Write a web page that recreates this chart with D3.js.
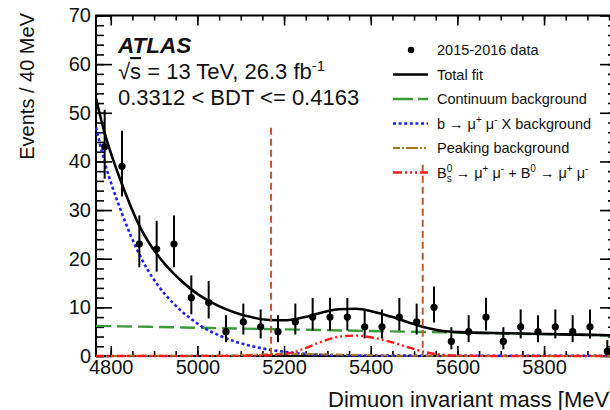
<!DOCTYPE html>
<html>
<head>
<meta charset="utf-8">
<script src="https://cdn.jsdelivr.net/npm/d3@7"></script>
<style>
  html, body { margin: 0; padding: 0; background: #fff; overflow: hidden; }
  svg { display: block; font-family: "Liberation Sans", Arial, Helvetica, sans-serif; }
</style>
</head>
<body>
<svg id="chart" width="610" height="410"></svg>
<script>
// ---- Histogram: 40 MeV bins, centres and observed counts ----
const binCenters = [4786, 4826, 4866, 4906, 4946, 4986, 5026, 5066, 5106, 5146,
                    5186, 5226, 5266, 5306, 5346, 5386, 5426, 5466, 5506, 5546,
                    5586, 5626, 5666, 5706, 5746, 5786, 5826, 5866, 5906, 5946];
const counts = [43, 39, 23, 22, 23, 12, 11, 5, 7, 6,
                5, 7, 8, 8, 8, 6, 6, 8, 7, 10,
                3, 5, 8, 3, 6, 5, 6, 5, 6, 1];
// Poisson (68%) interval half-widths for each bin
const errDown = [6.55, 6.23, 4.77, 4.66, 4.77, 3.42, 3.27, 2.16, 2.58, 2.38,
                 2.16, 2.58, 2.77, 2.77, 2.77, 2.38, 2.38, 2.77, 2.58, 3.11,
                 1.63, 2.16, 2.77, 1.63, 2.38, 2.16, 2.38, 2.16, 2.38, 0.83];
const errUp = [7.62, 7.30, 5.90, 5.80, 5.90, 4.57, 4.42, 3.38, 3.77, 3.58,
               3.38, 3.77, 3.95, 3.95, 3.95, 3.58, 3.58, 3.95, 3.77, 4.27,
               2.92, 3.38, 3.95, 2.92, 3.58, 3.38, 3.58, 3.38, 3.58, 2.30];

// ---- Fit model curves (events / 40 MeV) ----
const fitMass = [4766, 4786, 4806, 4826, 4846, 4866, 4886, 4906, 4926, 4946,
                 4966, 4986, 5006, 5046, 5086, 5126, 5166, 5206, 5246, 5286,
                 5326, 5366, 5406, 5446, 5486, 5526, 5566, 5606, 5686, 5766,
                 5846, 5966];
const totalFit = [53.0, 45.8, 40.2, 35.3, 30.8, 26.8, 23.6, 21.0, 18.8, 16.9,
                  15.2, 13.7, 12.4, 10.4, 8.95, 7.95, 7.4, 7.35, 7.95, 8.9,
                  9.6, 9.7, 9.1, 8.1, 6.95, 5.85, 5.15, 4.9, 4.72, 4.58,
                  4.45, 4.25];

const contMass = [4766, 4966, 5166, 5366, 5566, 5766, 5966];
const continuumFit = [6.2, 5.87, 5.53, 5.2, 4.87, 4.53, 4.2];

const bmumuMass = [4766, 4786, 4806, 4826, 4846, 4866, 4886, 4906, 4926, 4946,
                   4966, 4986, 5006, 5046, 5086, 5126, 5166, 5206, 5246, 5286,
                   5366, 5446, 5566, 5766, 5966];
const bmumuXFit = [47.0, 39.8, 34.2, 29.3, 24.8, 20.9, 17.6, 14.9, 12.6, 10.7,
                   9.0, 7.6, 6.3, 4.4, 3.0, 2.0, 1.3, 0.8, 0.45, 0.25,
                   0.12, 0.08, 0.06, 0.05, 0.04];

const peakMass = [4766, 5046, 5126, 5206, 5286, 5366, 5446, 5526, 5966];
const peakingFit = [0.02, 0.08, 0.25, 0.45, 0.35, 0.2, 0.08, 0.03, 0.01];

const sigMass = [4766, 5086, 5166, 5206, 5246, 5286, 5326, 5366, 5406, 5446,
                 5486, 5526, 5566, 5606, 5686, 5966];
const signalFit = [0.0, 0.03, 0.15, 0.45, 1.5, 2.9, 3.95, 4.2, 3.75, 2.9,
                   1.8, 0.8, 0.25, 0.06, 0.01, 0.0];

// Signal-region boundaries [mass, top of line in events]
const windowMass = [5170, 5520];
const windowTop = [46.9, 39.3];

// Axis ticks
const xMajor = [4800, 5000, 5200, 5400, 5600, 5800];
const yMajor = [0, 10, 20, 30, 40, 50, 60, 70];

// ---- Drawing ----
const svg = d3.select("#chart");
const x = d3.scaleLinear().domain([4766, 5966]).range([96, 616]);
const y = d3.scaleLinear().domain([0, 70]).range([356, 15.5]);

const xMinor = d3.range(4800, 5966, 50);
const yMinor = d3.range(0, 70.01, 2);

function styleAxis(g, fontSize) {
  g.select(".domain").remove();
  g.selectAll(".tick line").attr("stroke", "#000").attr("stroke-width", 1.6);
  g.selectAll("text").attr("font-size", fontSize).attr("fill", "#111")
    .attr("font-family", "'Liberation Sans', Arial, sans-serif");
}

// bottom
svg.append("g").attr("transform", `translate(0,${y(0)})`)
  .call(d3.axisBottom(x).tickValues(xMinor).tickSize(-5).tickFormat(""))
  .call(g => styleAxis(g, 0));
svg.append("g").attr("transform", `translate(0,${y(0)})`)
  .call(d3.axisBottom(x).tickValues(xMajor).tickSize(-10).tickPadding(4).tickFormat(d3.format("d")))
  .call(g => styleAxis(g, 20));
// top
svg.append("g").attr("transform", `translate(0,${y(70)})`)
  .call(d3.axisTop(x).tickValues(xMinor).tickSize(-5).tickFormat(""))
  .call(g => styleAxis(g, 0));
svg.append("g").attr("transform", `translate(0,${y(70)})`)
  .call(d3.axisTop(x).tickValues(xMajor).tickSize(-10).tickFormat(""))
  .call(g => styleAxis(g, 0));
// left
svg.append("g").attr("transform", `translate(${x(4766)},0)`)
  .call(d3.axisLeft(y).tickValues(yMinor).tickSize(-8).tickFormat(""))
  .call(g => styleAxis(g, 0));
svg.append("g").attr("transform", `translate(${x(4766)},0)`)
  .call(d3.axisLeft(y).tickValues(yMajor).tickSize(-16).tickPadding(5).tickFormat(d3.format("d")))
  .call(g => styleAxis(g, 20));
// right
svg.append("g").attr("transform", `translate(${x(5966)},0)`)
  .call(d3.axisRight(y).tickValues(yMinor).tickSize(-8).tickFormat(""))
  .call(g => styleAxis(g, 0));
svg.append("g").attr("transform", `translate(${x(5966)},0)`)
  .call(d3.axisRight(y).tickValues(yMajor).tickSize(-16).tickFormat(""))
  .call(g => styleAxis(g, 0));

// frame
svg.append("rect")
  .attr("x", x(4766)).attr("y", y(70))
  .attr("width", x(5966) - x(4766)).attr("height", y(0) - y(70))
  .attr("fill", "none").attr("stroke", "#000").attr("stroke-width", 2);

// axis titles
svg.append("text")
  .attr("transform", `translate(34,13) rotate(-90)`)
  .attr("text-anchor", "end").attr("font-size", 20).attr("fill", "#111")
  .text("Events / 40 MeV");
svg.append("text")
  .attr("x", 328).attr("y", 407).attr("font-size", 22).attr("fill", "#111")
  .text("Dimuon invariant mass [MeV]");

// curves
const plot = svg.append("g");
function curve(masses, values, color, width, dash) {
  const pts = masses.map((m, i) => [m, values[i]]);
  plot.append("path")
    .datum(pts)
    .attr("fill", "none")
    .attr("stroke", color)
    .attr("stroke-width", width)
    .attr("stroke-dasharray", dash)
    .attr("d", d3.line().x(d => x(d[0])).y(d => y(d[1])).curve(d3.curveMonotoneX));
}
const cContinuum = "#3a9b3a", cBmumu = "#1f1fff", cPeak = "#a8741a", cSignal = "#ff1a1a", cWindow = "#c05a2a";

curve(contMass, continuumFit, cContinuum, 2.4, "15,6");
curve(bmumuMass, bmumuXFit, cBmumu, 2.6, "3,2.6");
curve(peakMass, peakingFit, cPeak, 2, "7,3,2,3");
curve(sigMass, signalFit, cSignal, 2.4, "8,3,2,3,2,3");
curve(fitMass, totalFit, "#000", 2.6, null);

// signal window lines
windowMass.forEach((m, i) => {
  plot.append("line")
    .attr("x1", x(m)).attr("x2", x(m))
    .attr("y1", y(windowTop[i])).attr("y2", y(0))
    .attr("stroke", cWindow).attr("stroke-width", 2).attr("stroke-dasharray", "7,4");
});

// data points with error bars
const data = binCenters.map((m, i) => ({ m, n: counts[i], lo: errDown[i], hi: errUp[i] }));
const pts = plot.append("g");
pts.selectAll("line").data(data).join("line")
  .attr("x1", d => x(d.m)).attr("x2", d => x(d.m))
  .attr("y1", d => y(d.n + d.hi)).attr("y2", d => y(Math.max(0, d.n - d.lo)))
  .attr("stroke", "#000").attr("stroke-width", 2);
pts.selectAll("circle").data(data).join("circle")
  .attr("cx", d => x(d.m)).attr("cy", d => y(d.n)).attr("r", 3.6).attr("fill", "#000");

// ATLAS label block
const lab = svg.append("g").attr("fill", "#111");
lab.append("text").attr("x", 118).attr("y", 53)
  .attr("font-size", 22.5).attr("font-weight", "bold").attr("font-style", "italic")
  .text("ATLAS");
const lum = lab.append("text").attr("x", 118).attr("y", 79).attr("font-size", 22);
lum.append("tspan").text("\u221A");
lum.append("tspan").attr("style", "text-decoration: overline").text("s");
lum.append("tspan").text(" = 13 TeV, 26.3 fb");
lum.append("tspan").attr("font-size", 15).attr("dy", -8).text("-1");
lab.append("text").attr("x", 118).attr("y", 105).attr("font-size", 22)
  .text("0.3312 < BDT <= 0.4163");

// legend
const legRows = [50, 74.5, 99, 123.5, 148, 172.5];
const leg = svg.append("g").attr("font-size", 14.5).attr("fill", "#111");
const lx0 = 393, lx1 = 428, ltx = 437;
leg.append("circle").attr("cx", 411).attr("cy", legRows[0]).attr("r", 3.2).attr("fill", "#000");
const legLines = [
  { row: 1, color: "#000", w: 2.6, dash: null },
  { row: 2, color: cContinuum, w: 2.4, dash: "20,5" },
  { row: 3, color: cBmumu, w: 2.6, dash: "3,2.6" },
  { row: 4, color: cPeak, w: 2, dash: "7,2,2,2,12,2,2,2,2,2,2,2" },
  { row: 5, color: cSignal, w: 2.4, dash: "9,3,2,3,2,3,2,3" }
];
legLines.forEach(l => {
  leg.append("line").attr("x1", lx0).attr("x2", lx1)
    .attr("y1", legRows[l.row]).attr("y2", legRows[l.row])
    .attr("stroke", l.color).attr("stroke-width", l.w).attr("stroke-dasharray", l.dash);
});
const legText = ["2015-2016 data", "Total fit", "Continuum background"];
legText.forEach((t, i) => leg.append("text").attr("x", ltx).attr("y", legRows[i] + 5).text(t));

const t3 = leg.append("text").attr("x", ltx).attr("y", legRows[3] + 5);
t3.append("tspan").text("b \u2192 \u03BC");
t3.append("tspan").attr("font-size", 10).attr("dy", -6).text("+");
t3.append("tspan").attr("dy", 6).text(" \u03BC");
t3.append("tspan").attr("font-size", 10).attr("dy", -6).text("-");
t3.append("tspan").attr("dy", 6).text(" X background");

leg.append("text").attr("x", ltx).attr("y", legRows[4] + 5).text("Peaking background");

const t5 = leg.append("text").attr("x", ltx).attr("y", legRows[5] + 5);
t5.append("tspan").text("B");
t5.append("tspan").attr("font-size", 10).attr("dy", -6).text("0");
t5.append("tspan").attr("font-size", 10).attr("dx", -5.6).attr("dy", 10).text("s");
t5.append("tspan").attr("dy", -4).text(" \u2192 \u03BC");
t5.append("tspan").attr("font-size", 10).attr("dy", -6).text("+");
t5.append("tspan").attr("dy", 6).text(" \u03BC");
t5.append("tspan").attr("font-size", 10).attr("dy", -6).text("-");
t5.append("tspan").attr("dy", 6).text(" + B");
t5.append("tspan").attr("font-size", 10).attr("dy", -6).text("0");
t5.append("tspan").attr("dy", 6).text(" \u2192 \u03BC");
t5.append("tspan").attr("font-size", 10).attr("dy", -6).text("+");
t5.append("tspan").attr("dy", 6).text(" \u03BC");
t5.append("tspan").attr("font-size", 10).attr("dy", -6).text("-");
</script>
</body>
</html>
